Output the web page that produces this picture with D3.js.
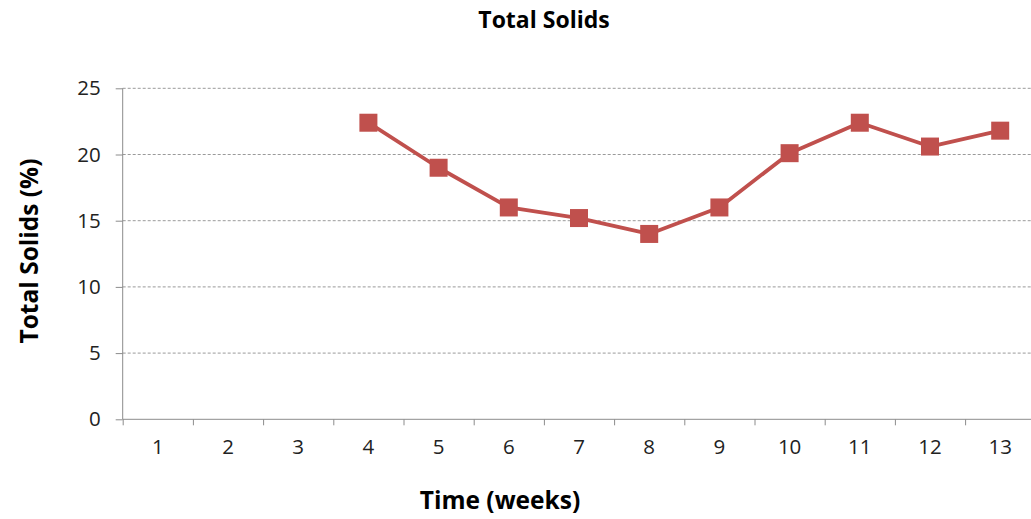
<!DOCTYPE html>
<html>
<head>
<meta charset="utf-8">
<script src="https://cdn.jsdelivr.net/npm/d3@7"></script>
<style>
  html, body { margin: 0; padding: 0; background: #fff; }
  svg { display: block; font-family: "Open Sans", "Liberation Sans", sans-serif; }
</style>
</head>
<body>
<svg id="chart" width="1031" height="519"></svg>
<script>
// Weekly total solids measurements (no readings for weeks 1–3)
const weeks = [1, 2, 3, 4, 5, 6, 7, 8, 9, 10, 11, 12, 13];
const totalSolids = [null, null, null, 22.4, 19.0, 16.0, 15.2, 14.0, 16.0, 20.1, 22.4, 20.6, 21.8];
const yTicks = [0, 5, 10, 15, 20, 25];

const chartTitle = "Total Solids";
const xTitle = "Time (weeks)";
const yTitle = "Total Solids (%)";

const svg = d3.select("#chart");
const margin = { left: 122.7, top: 88.3, bottom: 419.3 };
const bandW = 70.2;
const right = margin.left + bandW * weeks.length;

const x = d3.scaleBand().domain(weeks).range([margin.left, right]).padding(0);
const xEdge = d3.scaleLinear().domain([0, weeks.length]).range([margin.left, right]);
const y = d3.scaleLinear().domain([0, 25]).range([margin.bottom, margin.top]);

// Horizontal dashed gridlines
svg.append("g")
  .selectAll("line")
  .data(yTicks.filter(d => d > 0))
  .join("line")
  .attr("x1", margin.left).attr("x2", right)
  .attr("y1", d => y(d)).attr("y2", d => y(d))
  .attr("stroke", "#9a9a9a").attr("stroke-width", 1)
  .attr("stroke-dasharray", "3,2");

// Y axis
const yAxis = svg.append("g")
  .attr("transform", `translate(${margin.left},0)`)
  .call(d3.axisLeft(y).tickValues(yTicks).tickSize(7).tickPadding(15).tickFormat(d3.format("d")));
yAxis.select(".domain").attr("stroke", "#8c8c8c").attr("d", `M0,${margin.bottom}V${margin.top}`);
yAxis.selectAll(".tick line").attr("stroke", "#8c8c8c");
yAxis.selectAll(".tick text").attr("font-size", 20.5).attr("fill", "#222")
  .attr("font-family", "Open Sans, sans-serif");

// X axis: boundary tick marks
const xAxisEdges = svg.append("g")
  .attr("transform", `translate(0,${margin.bottom})`)
  .call(d3.axisBottom(xEdge).tickValues(d3.range(0, weeks.length + 1)).tickSize(6).tickFormat(""));
xAxisEdges.select(".domain").attr("stroke", "#8c8c8c").attr("d", `M${margin.left},0H${right}`);
xAxisEdges.selectAll(".tick line").attr("stroke", "#8c8c8c");

// X axis: week labels centred in each band
const xAxisLabels = svg.append("g")
  .attr("transform", `translate(0,${margin.bottom})`)
  .call(d3.axisBottom(x).tickSize(0).tickPadding(20));
xAxisLabels.select(".domain").remove();
xAxisLabels.selectAll(".tick text").attr("font-size", 20.5).attr("fill", "#222")
  .attr("font-family", "Open Sans, sans-serif");

// Series line and square markers
const pts = weeks.map((w, i) => ({ w, v: totalSolids[i] })).filter(d => d.v != null);
const cx = d => x(d.w) + x.bandwidth() / 2;

svg.append("path")
  .datum(pts)
  .attr("fill", "none")
  .attr("stroke", "#c0504d")
  .attr("stroke-width", 3.8)
  .attr("stroke-linejoin", "round")
  .attr("d", d3.line().x(cx).y(d => y(d.v)));

const ms = 18;
svg.append("g")
  .selectAll("rect")
  .data(pts)
  .join("rect")
  .attr("x", d => cx(d) - ms / 2)
  .attr("y", d => y(d.v) - ms / 2)
  .attr("width", ms).attr("height", ms)
  .attr("fill", "#c0504d");

// Titles
svg.append("text")
  .attr("x", 544).attr("y", 28)
  .attr("text-anchor", "middle")
  .attr("font-size", 23).attr("font-weight", "bold").attr("fill", "#000")
  .text(chartTitle);

svg.append("text")
  .attr("x", 500).attr("y", 509)
  .attr("text-anchor", "middle")
  .attr("font-size", 24.5).attr("font-weight", "bold").attr("fill", "#000")
  .text(xTitle);

svg.append("text")
  .attr("transform", "translate(38,251) rotate(-90)")
  .attr("text-anchor", "middle")
  .attr("font-size", 24.5).attr("font-weight", "bold").attr("fill", "#000")
  .text(yTitle);
</script>
</body>
</html>
